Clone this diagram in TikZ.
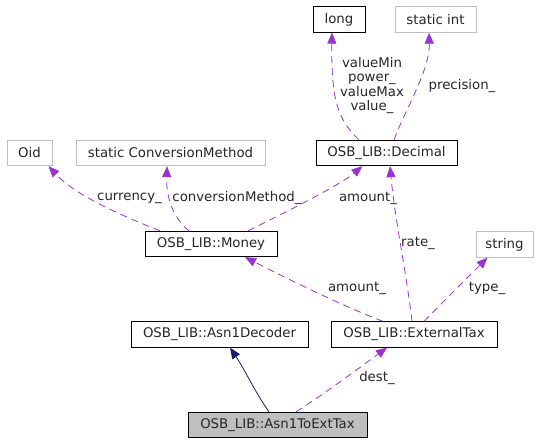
\documentclass[tikz,border=0pt]{standalone}
\usepackage{fontspec}
\setmainfont{DejaVu Sans}
\usetikzlibrary{arrows.meta}
\definecolor{dep}{HTML}{9A32CD}
\definecolor{inh}{HTML}{191970}
\definecolor{gb}{HTML}{BFBFBF}
\tikzset{
  box/.style={draw=black, line width=0.8pt, fill=white, inner sep=0pt, minimum height=25.5pt, font=\fontsize{13.3}{15}\selectfont, text=black!85},
  gbox/.style={box, draw=gb},
  cur/.style={box, fill=gb},
  depl/.style={draw=dep, line width=0.8pt, dash pattern=on 7pt off 5pt, -{Triangle[length=11pt,width=9pt]}},
  inhl/.style={draw=inh, line width=0.8pt, -{Triangle[length=11pt,width=9pt]}},
  lab/.style={font=\fontsize{13.3}{15}\selectfont, text=black!85, inner sep=0pt, align=center}
}
\begin{document}
\begin{tikzpicture}[x=1pt,y=-1pt]
\useasboundingbox (0,0) rectangle (545,443);
\node[box, minimum width=52pt] (long) at (339,19.5) {long};
\node[gbox, minimum width=81pt] (sint) at (435.5,19.5) {static int};
\node[box, minimum width=141pt] (dec) at (386.5,153) {OSB\_LIB::Decimal};
\node[gbox, minimum width=45pt] (oid) at (29.5,153) {Oid};
\node[gbox, minimum width=189pt] (scm) at (170.5,153) {static ConversionMethod};
\node[box, minimum width=132pt] (money) at (211,244) {OSB\_LIB::Money};
\node[gbox, minimum width=57pt] (str) at (504.5,244.5) {string};
\node[box, minimum width=177pt] (asn) at (219.5,334.5) {OSB\_LIB::Asn1Decoder};
\node[box, minimum width=166pt] (ext) at (414,334.5) {OSB\_LIB::ExternalTax};
\node[cur, minimum width=179pt] (a2e) at (277.5,425) {OSB\_LIB::Asn1ToExtTax};

% Decimal -> long, static int
\draw[depl] ([xshift=-27.5pt]dec.north) .. controls (338,120) and (331,100) .. ([xshift=-7pt]long.south);
\node[lab] (l1) at (372,85.5) {valueMin\\[-0.5pt]power\_\\[-0.5pt]valueMax\\[-0.5pt]value\_};
\draw[depl] ([xshift=7.5pt]dec.north) .. controls (405,110) and (430,70) .. ([xshift=-6.5pt]sint.south);
\node[lab] (l2) at (462,86) {precision\_};

% Money -> Oid, SCM, Decimal
\draw[depl] ([xshift=-51pt]money.north) .. controls (120,215) and (75,195) .. ([xshift=19pt]oid.south);
\node[lab] (l3) at (129.5,198) {currency\_};
\draw[depl] ([xshift=-22pt]money.north) .. controls (175,220) and (166,200) .. ([xshift=-3.5pt]scm.south);
\node[lab] (l4) at (237,198) {conversionMethod\_};
\draw[depl] ([xshift=37pt]money.north) .. controls (290,210) and (340,185) .. ([xshift=-24pt]dec.south);
\node[lab] (l5) at (368,198) {amount\_};

% ExternalTax -> Money, Decimal, string
\draw[depl] ([xshift=-31pt]ext.north) .. controls (340,305) and (280,275) .. ([xshift=34pt]money.south);
\node[lab] (l6) at (357,288) {amount\_};
\draw[depl] ([xshift=-2pt]ext.north) .. controls (406,270) and (395,220) .. ([xshift=3.5pt]dec.south);
\node[lab] (l7) at (418,243) {rate\_};
\draw[depl] ([xshift=10pt]ext.north) .. controls (445,300) and (470,275) .. ([xshift=-17pt]str.south);
\node[lab] (l8) at (487,288) {type\_};

% Asn1ToExtTax -> Asn1Decoder, ExternalTax
\draw[inhl] ([xshift=-8.5pt]a2e.north) .. controls (255,392) and (245,370) .. ([xshift=10.5pt]asn.south);
\draw[depl] ([xshift=18.5pt]a2e.north) .. controls (330,390) and (370,360) .. ([xshift=-27pt]ext.south);
\node[lab] (l9) at (377,378) {dest\_};
\end{tikzpicture}
\end{document}
